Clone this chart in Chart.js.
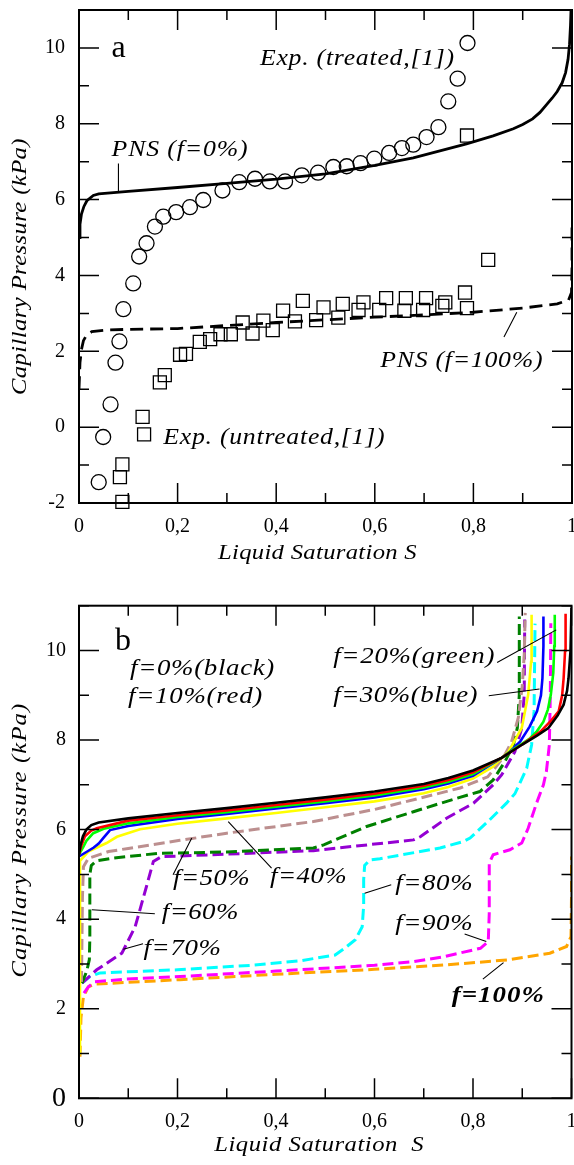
<!DOCTYPE html>
<html><head><meta charset="utf-8">
<script src="https://cdn.jsdelivr.net/npm/chart.js@4.4.1/dist/chart.umd.min.js"></script>
<style>
html,body{margin:0;padding:0;background:#fff;}
#wrap{position:relative;width:574px;height:1165px;overflow:hidden;background:#fff;}
canvas{position:absolute;left:0;}
#c1{top:0}
#c2{top:575px}
</style></head><body>
<div id="wrap"><canvas id="c1" width="574" height="575"></canvas><canvas id="c2" width="574" height="590"></canvas></div>
<script>
// ---------- axis ticks ----------
const sTickValues = [0,0.1,0.2,0.3,0.4,0.5,0.6,0.7,0.8,0.9,1];
const sTickLabels = ['0','','0,2','','0,4','','0,6','','0,8','','1'];
const pTickValuesA = [-2,-1,0,1,2,3,4,5,6,7,8,9,10,11];
const pTickLabelsA = ['-2','','0','','2','','4','','6','','8','','10',''];
const pTickValuesB = [0,1,2,3,4,5,6,7,8,9,10,11];
const pTickLabelsB = ['0','','2','','4','','6','','8','','10',''];

// ---------- panel a ----------
const pnsF0 = [[0,5.0],[0.002,5.35],[0.005,5.62],[0.01,5.82],[0.016,5.97],[0.029,6.11],[0.04,6.15],[0.1,6.22],[0.2,6.32],[0.3,6.43],[0.4,6.54],[0.5,6.68],[0.6,6.9],[0.678,7.1],[0.786,7.47],[0.84,7.68],[0.881,7.87],[0.9,7.98],[0.92,8.13],[0.935,8.3],[0.948,8.5],[0.96,8.68],[0.97,8.85],[0.98,9.08],[0.987,9.35],[0.992,9.7],[0.995,10.1],[0.997,10.6],[0.998,11]];
const pnsF100 = [[0,1.0],[0.002,1.7],[0.005,2.05],[0.009,2.28],[0.015,2.42],[0.026,2.52],[0.056,2.56],[0.1,2.58],[0.2,2.6],[0.3,2.68],[0.4,2.76],[0.5,2.83],[0.6,2.9],[0.7,2.96],[0.8,3.03],[0.9,3.14],[0.97,3.25],[0.993,3.35],[0.999,3.55],[1.0,4.2],[1.0,5.45]];
const expTreated = [[0.040,-1.45],[0.049,-0.26],[0.064,0.60],[0.074,1.70],[0.082,2.26],[0.090,3.11],[0.110,3.79],[0.122,4.50],[0.137,4.85],[0.154,5.29],[0.171,5.55],[0.197,5.67],[0.225,5.80],[0.252,5.99],[0.291,6.24],[0.325,6.46],[0.357,6.55],[0.387,6.48],[0.418,6.48],[0.452,6.64],[0.485,6.71],[0.516,6.86],[0.543,6.88],[0.571,6.96],[0.599,7.08],[0.629,7.23],[0.655,7.36],[0.678,7.45],[0.705,7.65],[0.729,7.91],[0.749,8.59],[0.768,9.19],[0.788,10.13]];
const expUntreated = [[0.088,-1.97],[0.083,-1.32],[0.088,-0.98],[0.132,-0.19],[0.129,0.27],[0.164,1.18],[0.174,1.37],[0.205,1.91],[0.217,1.93],[0.245,2.25],[0.266,2.32],[0.287,2.45],[0.308,2.45],[0.332,2.76],[0.352,2.47],[0.374,2.81],[0.393,2.56],[0.414,3.07],[0.438,2.79],[0.454,3.33],[0.481,2.82],[0.496,3.16],[0.526,2.89],[0.535,3.25],[0.567,3.09],[0.577,3.29],[0.609,3.09],[0.623,3.40],[0.660,3.07],[0.663,3.40],[0.698,3.09],[0.704,3.40],[0.737,3.20],[0.743,3.29],[0.783,3.55],[0.787,3.14],[0.830,4.41],[0.787,7.69]];

// ---------- panel b ----------
const fracLabels = ['f=0%','f=10%','f=20%','f=30%','f=40%','f=50%','f=60%','f=70%','f=80%','f=90%','f=100%'];
const f0 = [[0,5.45],[0.003,5.65],[0.008,5.85],[0.015,6.0],[0.025,6.1],[0.04,6.16],[0.1,6.25],[0.2,6.37],[0.3,6.48],[0.4,6.6],[0.5,6.72],[0.6,6.85],[0.7,7.02],[0.75,7.15],[0.8,7.32],[0.858,7.6],[0.9,7.9],[0.93,8.1],[0.953,8.27],[0.972,8.55],[0.984,8.79],[0.991,9.1],[0.994,9.38],[0.998,10.0],[1.0,10.95]];
const f10 = [[0,5.45],[0.005,5.65],[0.012,5.85],[0.025,5.98],[0.036,6.03],[0.1,6.2],[0.2,6.32],[0.3,6.43],[0.4,6.55],[0.5,6.67],[0.6,6.8],[0.7,6.98],[0.75,7.11],[0.8,7.28],[0.858,7.6],[0.9,7.9],[0.937,8.19],[0.96,8.45],[0.974,8.64],[0.981,9.0],[0.984,9.38],[0.987,10.0],[0.988,10.82]];
const f20 = [[0,5.45],[0.008,5.6],[0.015,5.75],[0.029,5.92],[0.05,6.02],[0.1,6.14],[0.2,6.28],[0.3,6.39],[0.4,6.51],[0.5,6.63],[0.6,6.76],[0.7,6.94],[0.75,7.07],[0.8,7.24],[0.858,7.6],[0.88,7.78],[0.9,7.92],[0.916,8.04],[0.93,8.2],[0.943,8.41],[0.952,8.68],[0.958,9.01],[0.963,9.5],[0.965,10.1],[0.966,10.8]];
const f30 = [[0,5.4],[0.015,5.5],[0.03,5.6],[0.04,5.69],[0.05,5.82],[0.063,5.99],[0.1,6.08],[0.2,6.24],[0.3,6.35],[0.4,6.47],[0.5,6.59],[0.6,6.72],[0.7,6.9],[0.75,7.03],[0.8,7.2],[0.858,7.6],[0.875,7.74],[0.896,7.97],[0.915,8.3],[0.93,8.64],[0.938,9.0],[0.941,9.38],[0.943,10.1],[0.943,10.76]];
const f40 = [[0,1.0],[0.002,5.3],[0.019,5.51],[0.056,5.7],[0.077,5.84],[0.124,6.01],[0.2,6.13],[0.3,6.25],[0.4,6.37],[0.5,6.5],[0.6,6.63],[0.7,6.81],[0.75,6.95],[0.8,7.14],[0.84,7.4],[0.872,7.74],[0.899,8.27],[0.912,9.01],[0.918,9.75],[0.919,10.8]];
const f50 = [[0.005,2.6],[0.007,4.5],[0.009,5.17],[0.019,5.36],[0.06,5.51],[0.1,5.58],[0.205,5.76],[0.3,5.92],[0.476,6.18],[0.6,6.45],[0.713,6.76],[0.774,6.93],[0.83,7.18],[0.845,7.38],[0.862,7.62],[0.878,7.95],[0.892,8.5],[0.9,9.2],[0.904,9.9],[0.906,10.84]];
const f60 = [[0.006,2.57],[0.016,2.85],[0.021,3.1],[0.022,3.6],[0.022,5.0],[0.025,5.2],[0.035,5.3],[0.066,5.36],[0.161,5.47],[0.3,5.5],[0.476,5.59],[0.497,5.66],[0.584,6.07],[0.679,6.4],[0.767,6.7],[0.814,6.85],[0.841,7.11],[0.865,7.52],[0.882,7.89],[0.89,8.27],[0.894,9.01],[0.894,10.76]];
const f70 = [[0.006,2.57],[0.036,2.87],[0.087,3.24],[0.114,3.83],[0.137,4.73],[0.151,5.29],[0.168,5.4],[0.205,5.41],[0.476,5.53],[0.679,5.77],[0.693,5.84],[0.747,6.26],[0.801,6.59],[0.841,7.0],[0.858,7.22],[0.885,7.74],[0.899,8.27],[0.904,9.01],[0.905,10.69]];
const f80 = [[0.006,2.57],[0.022,2.72],[0.043,2.8],[0.2,2.87],[0.35,2.97],[0.449,3.07],[0.52,3.2],[0.537,3.33],[0.561,3.54],[0.575,3.83],[0.578,4.3],[0.578,4.88],[0.58,5.2],[0.59,5.32],[0.611,5.35],[0.733,5.59],[0.78,5.73],[0.794,5.81],[0.834,6.22],[0.868,6.59],[0.885,6.8],[0.909,7.37],[0.919,7.89],[0.924,8.64],[0.926,10.6]];
const f90 = [[0.01,2.35],[0.019,2.49],[0.032,2.6],[0.093,2.66],[0.205,2.72],[0.4,2.84],[0.6,2.97],[0.679,3.05],[0.74,3.16],[0.815,3.35],[0.831,3.5],[0.833,4.13],[0.833,5.25],[0.841,5.44],[0.875,5.55],[0.899,5.7],[0.912,6.03],[0.929,6.59],[0.943,7.0],[0.949,7.3],[0.955,7.89],[0.957,9.0],[0.958,10.61]];
const f100 = [[0.002,0.93],[0.004,1.8],[0.009,2.27],[0.019,2.49],[0.032,2.55],[0.205,2.65],[0.4,2.77],[0.6,2.88],[0.747,2.98],[0.869,3.09],[0.956,3.24],[0.99,3.39],[0.999,3.61],[1.0,4.5],[1.0,5.4]];

// ---------- helpers ----------
const SERIF = "'Liberation Serif','Times New Roman',serif";
const xy = arr => arr.map(([x, y]) => ({x, y}));

// draw text, widened to a target width (partly by stretching, partly by spacing)
function drawText(ctx, text, x, y, o) {
  ctx.save();
  ctx.font = o.font;
  ctx.fillStyle = '#000';
  ctx.textAlign = 'left';
  ctx.textBaseline = o.baseline || 'alphabetic';
  ctx.letterSpacing = '0px';
  const w = ctx.measureText(text).width;
  const target = o.width || w;
  let sx = Math.min(Math.max(target / w, 0.9), 1.12);
  const ls = (target - w * sx) / text.length / sx;
  ctx.letterSpacing = ls.toFixed(2) + 'px';
  ctx.translate(x, y);
  if (o.rotate) ctx.rotate(-Math.PI / 2);
  ctx.scale(sx, 1);
  const x0 = (o.rotate || o.center) ? -target / 2 / sx : 0;
  ctx.fillText(text, x0, 0);
  ctx.restore();
}

function decorPlugin(cfg) {
  return {
    id: 'decor',
    afterDraw(chart) {
      const {ctx, chartArea: a, scales: {x, y}} = chart;
      ctx.save();
      ctx.strokeStyle = '#000';
      ctx.lineWidth = 1.5;
      ctx.beginPath();
      x.ticks.forEach(t => {
        const px = x.getPixelForValue(t.value);
        const len = t.label ? 20 : 10;
        ctx.moveTo(px, a.bottom); ctx.lineTo(px, a.bottom - len);
        ctx.moveTo(px, a.top); ctx.lineTo(px, a.top + len);
      });
      y.ticks.forEach(t => {
        const py = y.getPixelForValue(t.value);
        const len = t.label ? 20 : 10;
        ctx.moveTo(a.left, py); ctx.lineTo(a.left + len, py);
        ctx.moveTo(a.right, py); ctx.lineTo(a.right - len, py);
      });
      ctx.stroke();
      ctx.lineWidth = 2;
      ctx.strokeRect(a.left, a.top, a.right - a.left, a.bottom - a.top);
      // leader lines
      ctx.lineWidth = 1.1;
      ctx.beginPath();
      cfg.leaders.forEach(([s1, p1, s2, p2]) => {
        ctx.moveTo(x.getPixelForValue(s1), y.getPixelForValue(p1));
        ctx.lineTo(x.getPixelForValue(s2), y.getPixelForValue(p2));
      });
      ctx.stroke();
      ctx.restore();
      // labels
      cfg.labels.forEach(l => {
        drawText(ctx, l.t, x.getPixelForValue(l.s), y.getPixelForValue(l.p), {font: l.font, width: l.w});
      });
      // axis titles
      const cx = (a.left + a.right) / 2 + cfg.xTitleShift;
      drawText(ctx, cfg.xTitle, cx, a.bottom + cfg.xTitleOffset, {font: 'italic 22px ' + SERIF, width: cfg.xTitleWidth, center: true, baseline: 'middle'});
      drawText(ctx, 'Capillary Pressure (kPa)', 20, (a.top + a.bottom) / 2 + cfg.yTitleShift, {font: 'italic 22px ' + SERIF, width: cfg.yTitleWidth, rotate: true, baseline: 'middle'});
    }
  };
}

function axes(ticksX, labelsX, ticksY, labelsY, minY, maxY, xH, yPad, xPad, bigZero) {
  return {
    x: {
      type: 'linear', min: 0, max: 1,
      afterFit(s) { s.height = xH; s.paddingLeft = 0; s.paddingRight = 0; s.paddingTop = 0; s.paddingBottom = 0; },
      afterBuildTicks(s) { s.ticks = ticksX.map(v => ({value: v})); },
      grid: {display: false, drawTicks: false}, border: {display: false},
      ticks: {autoSkip: false, maxRotation: 0, padding: xPad, color: '#000',
        font: {family: SERIF, size: 20}, callback: (v, i) => labelsX[i]}
    },
    y: {
      type: 'linear', min: minY, max: maxY,
      afterFit(s) { s.width = 79; s.paddingLeft = 0; s.paddingRight = 0; s.paddingTop = 0; s.paddingBottom = 0; },
      afterBuildTicks(s) { s.ticks = ticksY.map(v => ({value: v})); },
      grid: {display: false, drawTicks: false}, border: {display: false},
      ticks: {autoSkip: false, padding: yPad, color: '#000',
        font: ctx => ({family: SERIF, size: (bigZero && ctx.tick && ctx.tick.value === 0) ? 28 : 20}),
        callback: (v, i) => labelsY[i]}
    }
  };
}

const common = {responsive: false, animation: false, events: [],
  plugins: {legend: {display: false}, tooltip: {enabled: false}}};

// ---------- chart a ----------
new Chart(document.getElementById('c1'), {
  type: 'scatter',
  data: {datasets: [
    {label: 'PNS (f=0%)', data: xy(pnsF0), showLine: true, borderColor: '#000', borderWidth: 2.8, pointRadius: 0, tension: 0, fill: false},
    {label: 'PNS (f=100%)', data: xy(pnsF100), showLine: true, borderColor: '#000', borderWidth: 2.8, borderDash: [13, 7], pointRadius: 0, tension: 0, fill: false},
    {label: 'Exp. (treated,[1])', data: xy(expTreated), pointStyle: 'circle', pointRadius: 7.5, pointBorderColor: '#000', pointBackgroundColor: 'rgba(0,0,0,0)', pointBorderWidth: 1.3, clip: false},
    {label: 'Exp. (untreated,[1])', data: xy(expUntreated), pointStyle: 'rect', pointRadius: 9.2, pointBorderColor: '#000', pointBackgroundColor: 'rgba(0,0,0,0)', pointBorderWidth: 1.3, clip: false}
  ]},
  options: Object.assign({}, common, {
    layout: {autoPadding: false, padding: {top: 10, right: 2, left: 0, bottom: 0}},
    scales: axes(sTickValues, sTickLabels, pTickValuesA, pTickLabelsA, -2, 11, 72, 14, 12, false)
  }),
  plugins: [decorPlugin({
    xTitle: 'Liquid Saturation S', xTitleShift: -8, xTitleOffset: 50, xTitleWidth: 199,
    yTitleShift: 10, yTitleWidth: 257,
    leaders: [[0.08, 6.95, 0.08, 6.2], [0.862, 2.38, 0.888, 3.03]],
    labels: [
      {t: 'a', s: 0.066, p: 9.76, font: '32px ' + SERIF},
      {t: 'Exp. (treated,[1])', s: 0.367, p: 9.54, font: 'italic 23px ' + SERIF, w: 195},
      {t: 'PNS (f=0%)', s: 0.066, p: 7.14, font: 'italic 23px ' + SERIF, w: 137},
      {t: 'PNS (f=100%)', s: 0.611, p: 1.59, font: 'italic 23px ' + SERIF, w: 163},
      {t: 'Exp. (untreated,[1])', s: 0.171, p: -0.44, font: 'italic 23px ' + SERIF, w: 222}
    ]
  })]
});

// ---------- chart b ----------
const curvesB = [f0, f10, f20, f30, f40, f50, f60, f70, f80, f90, f100];
const colorsB = ['#000000', '#ff0000', '#00ff00', '#0000ff', '#ffff00', '#bc8f8f', '#008000', '#9400d3', '#00ffff', '#ff00ff', '#ffa500'];
const dashedB = [false, false, false, false, false, true, true, true, true, true, true];

new Chart(document.getElementById('c2'), {
  type: 'scatter',
  data: {datasets: curvesB.map((c, i) => ({
    label: fracLabels[i], data: xy(c), showLine: true, borderColor: colorsB[i],
    borderWidth: dashedB[i] ? 3 : 2.6, borderDash: dashedB[i] ? [11, 5] : [],
    pointRadius: 0, tension: 0, fill: false
  }))},
  options: Object.assign({}, common, {
    layout: {autoPadding: false, padding: {top: 30.7, right: 2.5, left: 0, bottom: 0}},
    scales: axes(sTickValues, sTickLabels, pTickValuesB, pTickLabelsB, 0, 11, 66.7, 13, 11, true)
  }),
  plugins: [decorPlugin({
    xTitle: 'Liquid Saturation  S', xTitleShift: -6, xTitleOffset: 46.7, xTitleWidth: 210,
    yTitleShift: -12, yTitleWidth: 275,
    leaders: [[0.849, 9.73, 0.969, 10.46], [0.832, 8.99, 0.935, 9.14], [0.191, 4.99, 0.229, 5.81],
      [0.303, 6.18, 0.391, 5.14], [0.026, 4.21, 0.154, 4.12], [0.09, 3.33, 0.13, 3.45],
      [0.58, 4.58, 0.634, 4.77], [0.783, 3.67, 0.827, 3.50], [0.82, 2.66, 0.862, 3.03]],
    labels: [
      {t: 'b', s: 0.073, p: 10.01, font: '32px ' + SERIF},
      {t: 'f=0%(black)', s: 0.1036, p: 9.46, font: 'italic 24px ' + SERIF, w: 145},
      {t: 'f=10%(red)', s: 0.0995, p: 8.82, font: 'italic 24px ' + SERIF, w: 135},
      {t: 'f=20%(green)', s: 0.516, p: 9.72, font: 'italic 24px ' + SERIF, w: 162},
      {t: 'f=30%(blue)', s: 0.516, p: 8.86, font: 'italic 24px ' + SERIF, w: 145},
      {t: 'f=50%', s: 0.191, p: 4.77, font: 'italic 24px ' + SERIF, w: 77},
      {t: 'f=40%', s: 0.388, p: 4.80, font: 'italic 24px ' + SERIF, w: 77},
      {t: 'f=60%', s: 0.168, p: 4.0, font: 'italic 24px ' + SERIF, w: 77},
      {t: 'f=70%', s: 0.131, p: 3.2, font: 'italic 24px ' + SERIF, w: 78},
      {t: 'f=80%', s: 0.642, p: 4.65, font: 'italic 24px ' + SERIF, w: 78},
      {t: 'f=90%', s: 0.642, p: 3.76, font: 'italic 24px ' + SERIF, w: 78},
      {t: 'f=100%', s: 0.757, p: 2.16, font: 'italic bold 24px ' + SERIF, w: 93}
    ]
  })]
});
</script>
</body></html>
